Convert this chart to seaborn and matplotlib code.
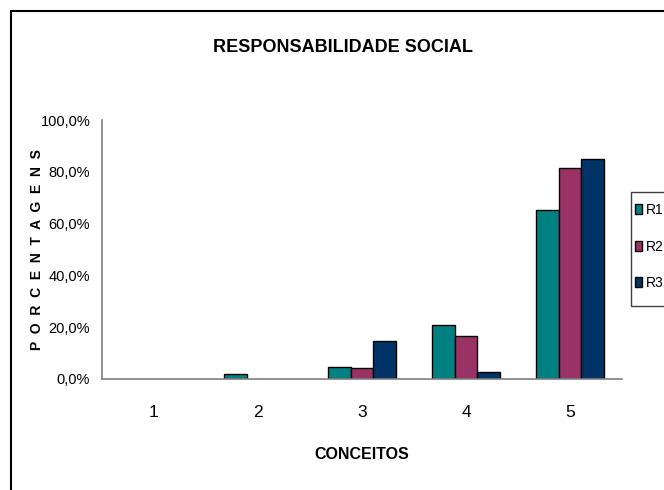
import pandas as pd
import seaborn as sns
import matplotlib.pyplot as plt
from matplotlib.lines import Line2D
from matplotlib.patches import Patch, Rectangle
from matplotlib.ticker import FuncFormatter, FixedLocator

categories = ['1', '2', '3', '4', '5']
r1 = [0.0, 2.0, 4.7, 20.8, 65.4]
r2 = [0.0, 0.0, 4.1, 16.7, 81.3]
r3 = [0.0, 0.0, 14.7, 2.7, 84.8]
series = ['R1', 'R2', 'R3']

palette = {'R1': '#008080', 'R2': '#993366', 'R3': '#003366'}

df = pd.DataFrame({'conceito': categories * 3,
                   'serie': ['R1'] * 5 + ['R2'] * 5 + ['R3'] * 5,
                   'valor': r1 + r2 + r3})

sns.set_style('white')
plt.rcParams['font.family'] = ['Liberation Sans', 'DejaVu Sans']
plt.rcParams['text.color'] = 'black'
plt.rcParams['axes.labelcolor'] = 'black'
plt.rcParams['xtick.color'] = 'black'
plt.rcParams['ytick.color'] = 'black'

fig = plt.figure(figsize=(6.64, 4.9), dpi=100)
ax = fig.add_axes([102 / 664, 1 - 379 / 490, 520 / 664, 259 / 490])

sns.barplot(data=df, x='conceito', y='valor', hue='serie', order=categories,
            hue_order=series, palette=palette, width=0.66, gap=0,
            edgecolor='black', linewidth=1, saturation=1, ax=ax, legend=False)

# Excel does not draw empty bars
for p in ax.patches:
    if p.get_height() == 0:
        p.set_visible(False)

ax.set_ylim(0, 100)
ax.set_xlim(-0.5, 4.5)
ax.set_yticks([0, 20, 40, 60, 80, 100])
ax.yaxis.set_major_formatter(FuncFormatter(lambda v, _: f'{v:.1f}%'.replace('.', ',')))
ax.xaxis.set_minor_locator(FixedLocator([i - 0.5 for i in range(6)]))
ax.tick_params(axis='x', which='major', length=0, labelsize=12.5, pad=18.5)
ax.tick_params(axis='x', which='minor', length=5, width=1, color='#404040', direction='out')
ax.tick_params(axis='y', length=5, width=1, color='#404040', direction='out', labelsize=10.5, pad=3.5)

for s in ['top', 'right']:
    ax.spines[s].set_visible(False)
for s in ['left', 'bottom']:
    ax.spines[s].set_color('#808080')
    ax.spines[s].set_linewidth(1.2)

ax.set_xlabel('CONCEITOS', fontsize=11.5, fontweight='bold', labelpad=20)
ax.set_ylabel('')
fig.text(37 / 664, 1 - 250 / 490, '  '.join('PORCENTAGENS'), rotation=90,
         ha='center', va='center', fontsize=10, fontweight='bold')
fig.text(343 / 664, 1 - 47 / 490, 'RESPONSABILIDADE SOCIAL', ha='center', va='center',
         fontsize=13, fontweight='bold')

# legend: frame drawn separately so it can run off the right edge like the reference
handles = [Patch(facecolor=palette[s], edgecolor='black', linewidth=1) for s in series]
ax.legend(handles, series, loc='upper left', bbox_to_anchor=(635 / 664, 1 - 203 / 490),
          bbox_transform=fig.transFigure, frameon=False, fontsize=10,
          handlelength=0.5, handleheight=0.72, handletextpad=0.25,
          labelspacing=1.62, borderpad=0, borderaxespad=0)
fig.add_artist(Rectangle((631 / 664, 1 - 306 / 490), 60 / 664, 114 / 490,
                         transform=fig.transFigure, facecolor='none',
                         edgecolor='#404040', linewidth=1))

# chart area border (cut off at right and bottom)
fig.add_artist(Line2D([11 / 664, 11 / 664], [0, 1 - 11 / 490], color='black', lw=1.5))
fig.add_artist(Line2D([11 / 664, 1], [1 - 11 / 490, 1 - 11 / 490], color='black', lw=1.5))

plt.savefig('out.png', dpi=100)
plt.close()
